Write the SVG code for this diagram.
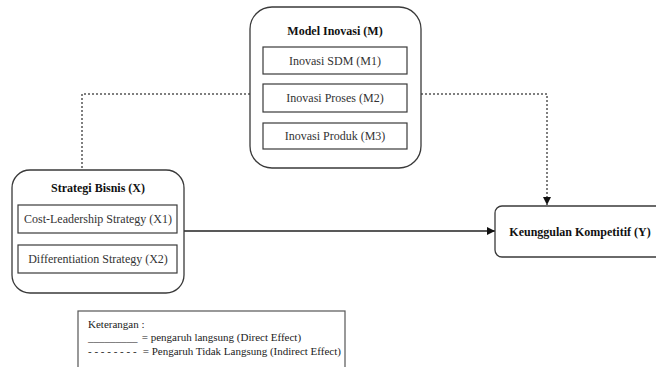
<svg xmlns="http://www.w3.org/2000/svg" width="656" height="367" viewBox="0 0 656 367" font-family="'Liberation Serif', 'DejaVu Serif', serif">
<defs>
<style>
.outer{fill:#fff;stroke:#3a3a3a;stroke-width:1.3}
.inner{fill:#fff;stroke:#3a3a3a;stroke-width:1.2}
.t{font-family:'Liberation Serif','DejaVu Serif',serif;font-size:12px;fill:#333;text-anchor:middle}
.b{font-weight:bold;fill:#111}
.lg{font-family:'Liberation Serif','DejaVu Serif',serif;font-size:11px;fill:#222}
.dot{fill:none;stroke:#555;stroke-width:1.5;stroke-dasharray:2,2}
.solid{fill:none;stroke:#222;stroke-width:1.3}
</style>
<marker id="ah" viewBox="0 0 10 10" refX="10" refY="5" markerWidth="8" markerHeight="8" markerUnits="userSpaceOnUse" orient="auto">
<path d="M0,0 L10,5 L0,10 z" fill="#111"/>
</marker>
</defs>
<rect width="656" height="367" fill="#fff"/>
<g id="connectors">
<path class="dot" d="M250,94 H82 V170"/>
<path class="dot" d="M421,94 H547 V205" marker-end="url(#ah)"/>
<path class="solid" d="M184,231 H495" marker-end="url(#ah)"/>
</g>
<g id="model-inovasi">
<rect class="outer" x="250" y="7" width="171" height="161" rx="22"/>
<text class="t b" x="335" y="35">Model Inovasi (M)</text>
<rect class="inner" x="263" y="47" width="144" height="27"/>
<text class="t" x="335" y="65">Inovasi SDM (M1)</text>
<rect class="inner" x="263" y="84" width="144" height="28"/>
<text class="t" x="335" y="102">Inovasi Proses (M2)</text>
<rect class="inner" x="263" y="123" width="144" height="26"/>
<text class="t" x="335" y="140">Inovasi Produk (M3)</text>
</g>
<g id="strategi-bisnis">
<rect class="outer" x="12" y="170" width="172" height="123" rx="18"/>
<text class="t b" x="98" y="192">Strategi Bisnis (X)</text>
<rect class="inner" x="18" y="205" width="159" height="28"/>
<text class="t" x="98" y="223">Cost-Leadership Strategy (X1)</text>
<rect class="inner" x="18" y="245" width="159" height="28"/>
<text class="t" x="98" y="263">Differentiation Strategy (X2)</text>
</g>
<g id="keunggulan">
<rect class="outer" x="495" y="206" width="175" height="51" rx="7"/>
<text class="t b" x="580" y="236">Keunggulan Kompetitif (Y)</text>
</g>
<g id="legend">
<rect x="78" y="311" width="267" height="70" fill="#fff" stroke="#555" stroke-width="1.2"/>
<text class="lg" x="88" y="328">Keterangan :</text>
<text class="lg" x="88" y="341">_________<tspan x="139"> = pengaruh langsung (Direct Effect)</tspan></text>
<text class="lg" x="88" y="355">- - - - - - - -<tspan x="140"> = Pengaruh Tidak Langsung (Indirect Effect)</tspan></text>
</g>
</svg>
